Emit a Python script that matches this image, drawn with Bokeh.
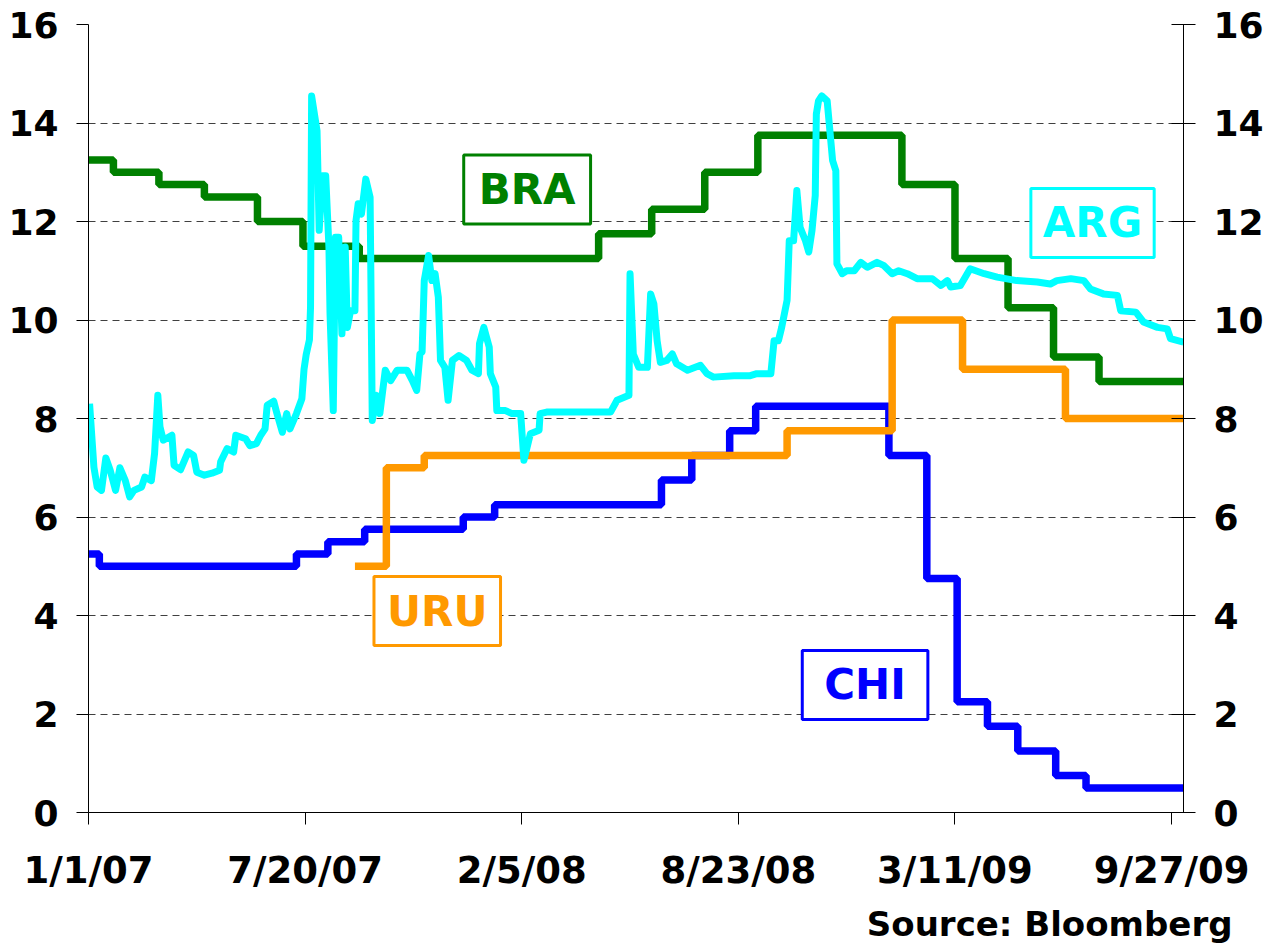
import pandas as pd
from bokeh.plotting import figure
from bokeh.models import Range1d, LinearAxis, FixedTicker, Label, Title
from bokeh.embed import file_html
from bokeh.resources import INLINE

# ---------------- data ----------------
START = pd.Timestamp("2007-01-01")

bra_dates = ["2007-01-01", "2007-01-24", "2007-03-07", "2007-04-18", "2007-06-06",
             "2007-07-18", "2007-09-08", "2008-04-16", "2008-06-04", "2008-07-23",
             "2008-09-10", "2009-01-21", "2009-03-11", "2009-04-29", "2009-06-10",
             "2009-07-22", "2009-10-08"]
bra_rate = [13.25, 13.00, 12.75, 12.50, 12.00, 11.50, 11.25, 11.75, 12.25, 13.00,
            13.75, 12.75, 11.25, 10.25, 9.25, 8.75, 8.75]

chi_dates = ["2007-01-01", "2007-01-11", "2007-07-12", "2007-08-10", "2007-09-13",
             "2007-12-13", "2008-01-11", "2008-06-13", "2008-07-11", "2008-08-15",
             "2008-09-08", "2009-01-09", "2009-02-13", "2009-03-13", "2009-04-10",
             "2009-05-08", "2009-06-12", "2009-07-10", "2009-10-08"]
chi_rate = [5.25, 5.00, 5.25, 5.50, 5.75, 6.00, 6.25, 6.75, 7.25, 7.75,
            8.25, 7.25, 4.75, 2.25, 1.75, 1.25, 0.75, 0.50, 0.50]

uru_dates = ["2007-09-04", "2007-10-03", "2007-11-07", "2008-10-07", "2009-01-12",
             "2009-03-18", "2009-06-21", "2009-10-08"]
uru_rate = [5.00, 7.00, 7.25, 7.75, 10.00, 9.00, 8.00, 8.00]

# Argentina: days since 1/1/07 and rate
arg_day = [1, 5, 8, 12, 16, 20, 25, 29, 34, 38,
           42, 49, 52, 58, 61, 64, 66, 69, 77, 79,
           85, 92, 97, 100, 107, 114, 121, 122, 128, 134,
           136, 145, 149, 155, 159, 163, 165, 171, 174, 179,
           183, 186, 192, 197, 199, 201, 204, 205, 206, 211,
           213, 216, 219, 222, 223, 226, 228, 231, 234, 237,
           239, 242, 246, 247, 249, 252, 256, 260, 262, 266,
           269, 274, 279, 285, 294, 299, 303, 306, 308, 310,
           314, 317, 320, 323, 325, 329, 332, 336, 342, 349,
           354, 360, 361, 365, 370, 371, 376, 377, 385, 391,
           399, 402, 408, 416, 417, 423, 482, 488, 499, 500,
           503, 508, 516, 519, 522, 525, 528, 534, 539, 543,
           553, 565, 571, 577, 596, 611, 617, 630, 633, 637,
           640, 645, 647, 651, 654, 657, 662, 665, 668, 671,
           672, 674, 677, 682, 687, 690, 691, 696, 700, 707,
           713, 719, 728, 734, 742, 748, 756, 765, 779, 787,
           793, 796, 805, 814, 827, 839, 857, 876, 888, 894,
           907, 919, 925, 937, 950, 953, 967, 974, 987, 996,
           999, 1011]
arg_rate = [8.30, 7.01, 6.61, 6.54, 7.20, 6.95, 6.54, 7.00, 6.74, 6.41,
            6.54, 6.61, 6.81, 6.74, 7.29, 8.47, 7.83, 7.56, 7.66, 7.05,
            6.96, 7.32, 7.25, 6.91, 6.85, 6.89, 6.95, 7.12, 7.39, 7.32,
            7.66, 7.59, 7.45, 7.49, 7.66, 7.79, 8.27, 8.35, 8.10, 7.72,
            8.10, 7.79, 8.10, 8.40, 9.00, 9.30, 9.60, 10.26, 14.55, 13.84,
            11.82, 12.93, 12.93, 11.48, 10.13, 8.16, 11.68, 11.68, 9.72, 11.48,
            9.85, 10.19, 10.19, 12.02, 12.36, 12.15, 12.86, 12.49, 7.96, 8.47,
            8.10, 8.98, 8.77, 8.98, 8.98, 8.77, 8.57, 9.31, 9.35, 10.80,
            11.31, 10.80, 10.94, 10.46, 9.18, 9.04, 8.37, 9.18, 9.28, 9.18,
            8.98, 8.91, 9.52, 9.85, 9.45, 8.91, 8.64, 8.16, 8.16, 8.10,
            8.10, 7.15, 7.69, 7.76, 8.10, 8.13, 8.13, 8.37, 8.47, 10.94,
            9.31, 9.04, 9.04, 10.53, 10.33, 9.58, 9.14, 9.18, 9.31, 9.11,
            8.98, 9.08, 8.91, 8.84, 8.87, 8.87, 8.91, 8.91, 9.58, 9.58,
            9.85, 10.40, 11.61, 11.61, 12.63, 11.88, 11.61, 11.38, 11.82, 12.53,
            14.18, 14.45, 14.55, 14.45, 13.24, 13.03, 11.14, 10.94, 11.00, 11.00,
            11.17, 11.07, 11.17, 11.11, 10.94, 11.00, 10.94, 10.84, 10.84, 10.70,
            10.80, 10.67, 10.70, 11.04, 10.94, 10.87, 10.80, 10.77, 10.73, 10.80,
            10.84, 10.80, 10.63, 10.53, 10.50, 10.19, 10.16, 9.96, 9.85, 9.82,
            9.62, 9.55]
assert len(arg_day) == len(arg_rate)

y_ticks = [0, 2, 4, 6, 8, 10, 12, 14, 16]
x_tick_dates = ["2007-01-01", "2007-07-20", "2008-02-05", "2008-08-23", "2009-03-11", "2009-09-27"]
x_tick_labels = ["1/1/07", "7/20/07", "2/5/08", "8/23/08", "3/11/09", "9/27/09"]
series_names = ["BRA", "ARG", "URU", "CHI"]
source_note = "Source: Bloomberg"

# ---------------- helpers ----------------
def to_dt(lst):
    return pd.to_datetime(lst)

def ms(ts):
    return float(pd.Timestamp(ts).value // 10**6)

arg_dates = START + pd.to_timedelta(arg_day, unit="D")

FONT = "DejaVu Sans"
GREEN, BLUE, ORANGE, CYAN = "#008000", "#0000FF", "#FF9900", "#00FFFF"

p = figure(width=1266, height=952, x_axis_type="datetime",
           output_backend="svg", toolbar_location=None,
           x_range=Range1d(pd.Timestamp("2007-01-01"), pd.Timestamp("2009-10-08")),
           y_range=Range1d(0, 16),
           min_border_left=88, min_border_right=83, min_border_top=24, min_border_bottom=140)
p.outline_line_color = None
p.background_fill_color = "white"
p.border_fill_color = "white"

# grid
p.xgrid.visible = False
p.ygrid.ticker = FixedTicker(ticks=y_ticks)
p.ygrid.grid_line_color = "#404040"
p.ygrid.grid_line_dash = "7 5"
p.ygrid.grid_line_width = 1

def style_axis(ax, size, standoff):
    ax.minor_tick_line_color = None
    ax.axis_line_color = "black"
    ax.major_tick_line_color = "black"
    ax.major_label_text_font = FONT
    ax.major_label_text_font_style = "bold"
    ax.major_label_text_font_size = size
    ax.major_label_text_color = "black"
    ax.major_label_standoff = standoff

# left axis
ly = p.yaxis[0]
ly.ticker = FixedTicker(ticks=y_ticks)
ly.major_tick_in = 0
ly.major_tick_out = 12
style_axis(ly, "36px", 18)

# right axis
ry = LinearAxis(ticker=FixedTicker(ticks=y_ticks))
ry.major_tick_in = 12
ry.major_tick_out = 12
style_axis(ry, "36px", 18)
p.add_layout(ry, "right")

# x axis
xa = p.xaxis[0]
tick_ms = [ms(d) for d in x_tick_dates]
xa.ticker = FixedTicker(ticks=tick_ms)
xa.major_label_overrides = {t: lab for t, lab in zip(tick_ms, x_tick_labels)}
xa.major_tick_in = 0
xa.major_tick_out = 12
style_axis(xa, "37px", 24)

# series
p.step(to_dt(bra_dates), bra_rate, mode="after", line_color=GREEN, line_width=7.5)
p.step(to_dt(chi_dates), chi_rate, mode="after", line_color=BLUE, line_width=7.5)
p.step(to_dt(uru_dates), uru_rate, mode="after", line_color=ORANGE, line_width=7.5)
p.line(arg_dates, arg_rate, line_color=CYAN, line_width=7, line_join="round")

# name boxes (position in days since start, rate; horizontal padding)
box_layout = {
    "BRA": (405, 12.65, GREEN, 15),
    "ARG": (927, 11.97, CYAN, 12),
    "URU": (322, 4.09, ORANGE, 13),
    "CHI": (717, 2.59, BLUE, 22),
}
for name in series_names:
    d, yv, col, ph = box_layout[name]
    p.add_layout(Label(
        x=ms(START + pd.Timedelta(days=d)), y=yv, text=name,
        text_color=col, text_font=FONT, text_font_style="bold", text_font_size="42px",
        text_align="center", text_baseline="middle",
        background_fill_color="white", border_line_color=col, border_line_width=3,
        padding=dict(left=ph, right=ph, top=10, bottom=10)))

p.add_layout(Title(text=source_note, align="right", offset=-49,
                   text_font=FONT, text_font_style="bold", text_font_size="34px",
                   text_color="black", standoff=14), "below")

open("out.html", "w").write(file_html(p, INLINE))
